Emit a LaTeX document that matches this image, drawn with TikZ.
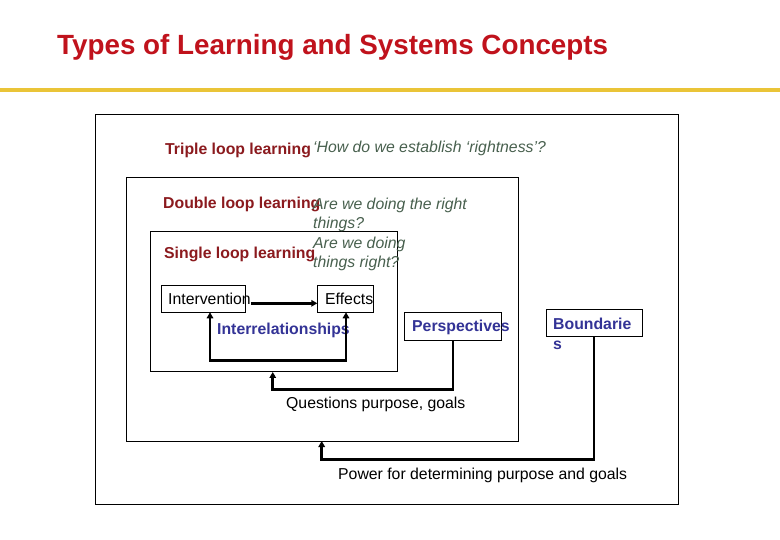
\documentclass[tikz,border=0pt]{standalone}
\usepackage{fontspec}
\setmainfont{Liberation Sans}
\usetikzlibrary{arrows.meta}
\definecolor{titlered}{RGB}{192,18,28}
\definecolor{rule}{RGB}{234,196,56}
\definecolor{loopred}{RGB}{139,26,30}
\definecolor{itgreen}{RGB}{72,96,78}
\definecolor{sysblue}{RGB}{51,51,150}
\begin{document}
\begin{tikzpicture}[x=1pt,y=-1pt,
  txt/.style={inner sep=0pt, anchor=base west, align=left, font=\fontsize{15.8}{19.5}\selectfont},
  looplbl/.style={txt, font=\fontsize{15.8}{19.5}\selectfont\bfseries, text=loopred},
  question/.style={txt, font=\fontsize{15.8}{19.5}\selectfont\itshape, text=itgreen},
  syslbl/.style={txt, font=\fontsize{15.8}{19.5}\selectfont\bfseries, text=sysblue},
  frame/.style={draw=black, line width=1pt, inner sep=0pt, outer sep=0pt, rectangle},
  conn/.style={draw=black, line width=2.7pt},
  tip/.style={-{Triangle[length=6pt,width=6.5pt]}},
  tips/.style={{Triangle[length=6pt,width=6.5pt]}-{Triangle[length=6pt,width=6.5pt]}}
]
\useasboundingbox (0,0) rectangle (780,540);
\fill[white] (0,0) rectangle (780,540);

% title and rule
\node[inner sep=0pt, anchor=base west, font=\fontsize{27.8}{30}\selectfont\bfseries, text=titlered] (title) at (57,55) {Types of Learning and Systems Concepts};
\draw[rule, line width=3.5pt] (0,90) -- (780,90);

% frames
\node[frame, minimum width=583.5, minimum height=389.5] (outer) at (386.75,309.75) {};
\node[frame, minimum width=392, minimum height=263.5] (middle) at (322.5,309.25) {};
\node[frame, minimum width=246.5, minimum height=140] (inner) at (273.75,302) {};

% loop labels (multi-line nodes: base anchor is on the last line)
\node[looplbl] (triple) at (165,155) {Triple loop learning};
\node[question] (tripleq) at (313,153) {‘How do we establish ‘rightness’?};
\node[looplbl] (double) at (163,209) {Double loop learning};
\node[question] (doubleq) at (313,229) {Are we doing the right\\things?};
\node[looplbl] (single) at (164,259) {Single loop learning};
\node[question] (singleq) at (313,268) {Are we doing\\things right?};

% single loop content
\node[frame, minimum width=84, minimum height=26.6] (intv) at (203.7,299) {};
\node[txt] (intvtext) at (168,304.5) {Intervention};
\node[frame, minimum width=56, minimum height=26.6] (eff) at (345.3,299) {};
\node[txt] (efftext) at (325,304.5) {Effects};
\node[syslbl] (interrel) at (217,335) {Interrelationships};
\coordinate (arrowy) at (0,303.3);
\draw[conn, tip] (intvtext.east |- arrowy) -- (eff.west |- arrowy);
\coordinate (loopy) at (0,360.7);
\draw[conn, tips] ([xshift=6.3pt]intv.south) -- ([xshift=6.3pt]intv.south |- loopy) -| ([xshift=0.7pt]eff.south);

% perspectives
\node[frame, minimum width=97.7, minimum height=28] (persp) at (452.85,326.7) {};
\node[syslbl] (persptext) at (412,332) {Perspectives};
\coordinate (qy) at (0,389.3);
\draw[conn, tip] (persp.south) |- ([xshift=-1pt]inner.south |- qy) -- ([xshift=-1pt]inner.south);
\node[txt] (questions) at (286,408) {Questions purpose, goals};

% boundaries
\node[frame, minimum width=95.6, minimum height=27.4] (bound) at (594.5,323) {};
\node[syslbl] (boundtext) at (553,349) {Boundarie\\s};
\coordinate (py) at (0,459.3);
\draw[conn, tip] ([xshift=-0.5pt]bound.south) |- ([xshift=-0.8pt]middle.south |- py) -- ([xshift=-0.8pt]middle.south);
\node[txt] (power) at (338,479.5) {Power for determining purpose and goals};
\end{tikzpicture}
\end{document}
